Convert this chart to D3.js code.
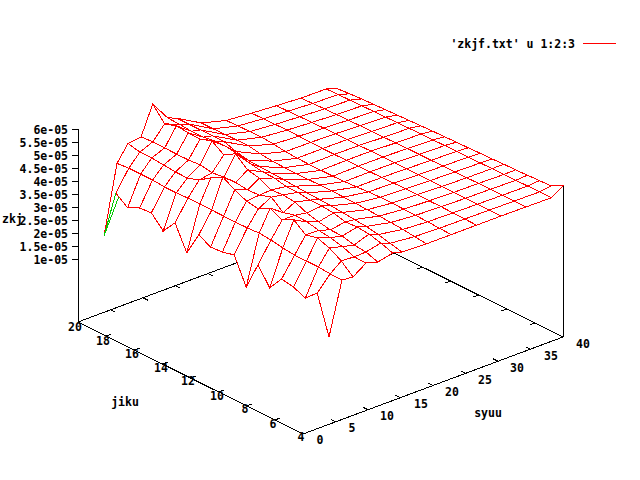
<!DOCTYPE html>
<html><head><meta charset="utf-8"><script src="https://cdn.jsdelivr.net/npm/d3@7"></script>
<style>html,body{margin:0;background:#fff}svg{display:block}text{font-family:"DejaVu Sans Mono",monospace;font-weight:bold;font-size:11.5px;fill:#000}</style></head>
<body><svg id="c" width="640" height="480"></svg>
<script>
const syuu=[4,6,7.7,9.7,11.5,13.8,15.2,19,22.8,26.7,30.5,34.3,38.2,40];
const jiku=[4,4.84,5.68,6.53,7.37,8.21,9.05,9.89,10.74,11.58,12.42,13.26,14.11,14.95,15.79,16.63,17.47,18.32,19.16,20];
const z00=[1.94,3.40,2.98,3.18,3.26,2.69,3.35,2.27,3.28,3.16,3.13,3.37,2.45,3.38,2.84,3.31,3.27,3.05,3.39,1.51];
const z01=[3.94,3.95,3.99,3.99,3.99,4.04,4.12,4.16,4.13,4.13,4.13,4.14,4.14,4.14,4.12,4.12,4.16,4.16,4.16,4.12];
const z02=[3.90,4.29,4.56,4.72,4.61,4.96,4.73,4.96,4.70,4.78,4.98,5.25,4.99,4.68,4.53,4.54,4.58,4.62,4.62,4.73];
const z03=[4.25,4.26,4.43,4.54,4.60,4.70,4.73,4.60,4.97,4.82,4.79,4.85,4.84,4.77,4.85,4.81,4.81,4.82,4.83,4.79];
const z04=[4.12,4.28,4.32,4.44,4.45,4.53,4.65,4.84,4.89,4.85,5.08,5.17,5.56,5.29,5.60,5.45,5.46,5.50,5.35,5.89];
const z05=[4.25,4.41,4.53,4.57,4.54,4.66,4.70,4.70,4.77,4.77,4.87,4.88,4.96,5.08,5.16,5.16,5.08,5.08,5.12,5.14];
const z06=[4.16,4.27,4.38,4.46,4.50,4.55,4.58,4.60,4.62,4.65,4.68,4.70,4.72,4.75,4.85,5.00,5.00,5.00,5.00,5.00];
const z07=[4.12,4.17,4.22,4.26,4.28,4.30,4.32,4.33,4.34,4.34,4.33,4.33,4.33,4.35,4.40,4.48,4.48,4.47,4.46,4.46];
const z08=[4.12,4.14,4.16,4.18,4.19,4.20,4.20,4.18,4.14,4.12,4.10,4.10,4.10,4.11,4.14,4.20,4.24,4.23,4.22,4.20];
const z09=[4.12,4.13,4.14,4.15,4.15,4.16,4.16,4.15,4.14,4.13,4.12,4.12,4.12,4.12,4.13,4.14,4.15,4.14,4.13,4.12];
const z10=[4.12,4.12,4.12,4.12,4.12,4.12,4.12,4.12,4.12,4.12,4.12,4.12,4.11,4.11,4.11,4.10,4.09,4.08,4.07,4.05];
const z11=[4.11,4.11,4.11,4.11,4.11,4.10,4.10,4.10,4.09,4.09,4.09,4.08,4.07,4.07,4.06,4.05,4.04,4.03,4.01,3.99];
const z12=[4.10,4.10,4.10,4.09,4.09,4.09,4.08,4.08,4.07,4.07,4.06,4.06,4.05,4.04,4.03,4.02,4.01,4.00,3.99,3.98];
const z13=[4.39,4.16,4.14,4.12,4.10,4.09,4.07,4.06,4.04,4.03,4.01,4.00,3.98,3.96,3.94,3.92,3.90,3.88,3.85,3.81];
const zCols=[z00,z01,z02,z03,z04,z05,z06,z07,z08,z09,z10,z11,z12,z13];
const xTicks=[0,5,10,15,20,25,30,35,40];
const yTicks=[4,6,8,10,12,14,16,18,20];
const zTicks=[1,1.5,2,2.5,3,3.5,4,4.5,5,5.5,6];
const zTickLabels=["1e-05","1.5e-05","2e-05","2.5e-05","3e-05","3.5e-05","4e-05","4.5e-05","5e-05","5.5e-05","6e-05"];
const xLabelPos=[[320,440],[352,428],[387,416],[421,404],[452,392],[485,380],[517,368],[551,356],[583,344]];
const yLabelPos=[[301,437],[273,424],[245,409],[217,396],[188,381],[161,368],[132,354],[103,341],[75,327]];
const legendText="'zkjf.txt' u 1:2:3";

const svg=d3.select("#c");
const xSx=d3.scaleLinear([0,40],[0,260]), xSy=d3.scaleLinear([0,40],[0,-97]);
const ySx=d3.scaleLinear([4,20],[0,-225]), ySy=d3.scaleLinear([4,20],[0,-112]);
const zS=d3.scaleLinear([-1.42,6],[0,-193]);
const P=(x,y,z)=>[303+xSx(x)+ySx(y),434+xSy(x)+ySy(y)+zS(z)];
const zBase=-1.42;
const line=d3.line();
const base=svg.append("g").attr("fill","none").attr("stroke","#000").attr("shape-rendering","crispEdges");
const seg=(a,b)=>base.append("path").attr("d",line([a,b]));
seg(P(0,4,zBase),P(40,4,zBase));seg(P(40,4,zBase),P(40,20,zBase));seg(P(40,20,zBase),P(0,20,zBase));seg(P(0,20,zBase),P(0,4,zBase));
seg(P(0,20,zBase),P(0,20,6));
seg(P(40,4,zBase),P(40,4,z13[0]));
xTicks.forEach(v=>{if(v>0&&v<40){seg(P(v,4,zBase),P(v,4.35,zBase));seg(P(v,20,zBase),P(v,19.65,zBase));}});
yTicks.forEach(v=>{if(v>4&&v<20){seg(P(0,v,zBase),P(0.8,v,zBase));seg(P(40,v,zBase),P(39.2,v,zBase));}});
zTicks.forEach(v=>{const p=P(0,20,v);seg(p,[p[0]-6,p[1]]);});
const surf=svg.append("g").attr("stroke","#f00").attr("fill","#fff").attr("shape-rendering","crispEdges");
const node=(c,r)=>P(syuu[c],jiku[r],zCols[c][r]);
for(let c=syuu.length-2;c>=0;c--){for(let r=jiku.length-2;r>=0;r--){
  surf.append("path").attr("d",line([node(c,r),node(c+1,r),node(c+1,r+1),node(c,r+1)])+"Z");
}}
const g0=node(0,19),g1=node(0,18),g2=node(0,17);
const under=svg.append("g").attr("stroke","#0c0").attr("fill","none").attr("shape-rendering","crispEdges");
under.append("path").attr("d",line([g0,g1]));
under.append("path").attr("d",line([g0,[g1[0]+(g2[0]-g1[0])*0.25,g1[1]+(g2[1]-g1[1])*0.25]]));
const T=(s,x,y,a)=>svg.append("text").attr("x",x).attr("y",y).attr("text-anchor",a||"middle").attr("dy","0.35em").text(s);
xTicks.forEach((v,i)=>T(v,xLabelPos[i][0],xLabelPos[i][1]));
yTicks.forEach((v,i)=>T(v,yLabelPos[i][0],yLabelPos[i][1]));
zTicks.forEach((v,i)=>T(zTickLabels[i],68,P(0,20,v)[1]+1,"end"));
T("syuu",488,413);T("jiku",125,402);T("zkj",2,219,"start");
T(legendText,575,44,"end");
svg.append("path").attr("d",line([[583,43],[616,43]])).attr("stroke","#f00").attr("fill","none").attr("shape-rendering","crispEdges");
</script></body></html>
